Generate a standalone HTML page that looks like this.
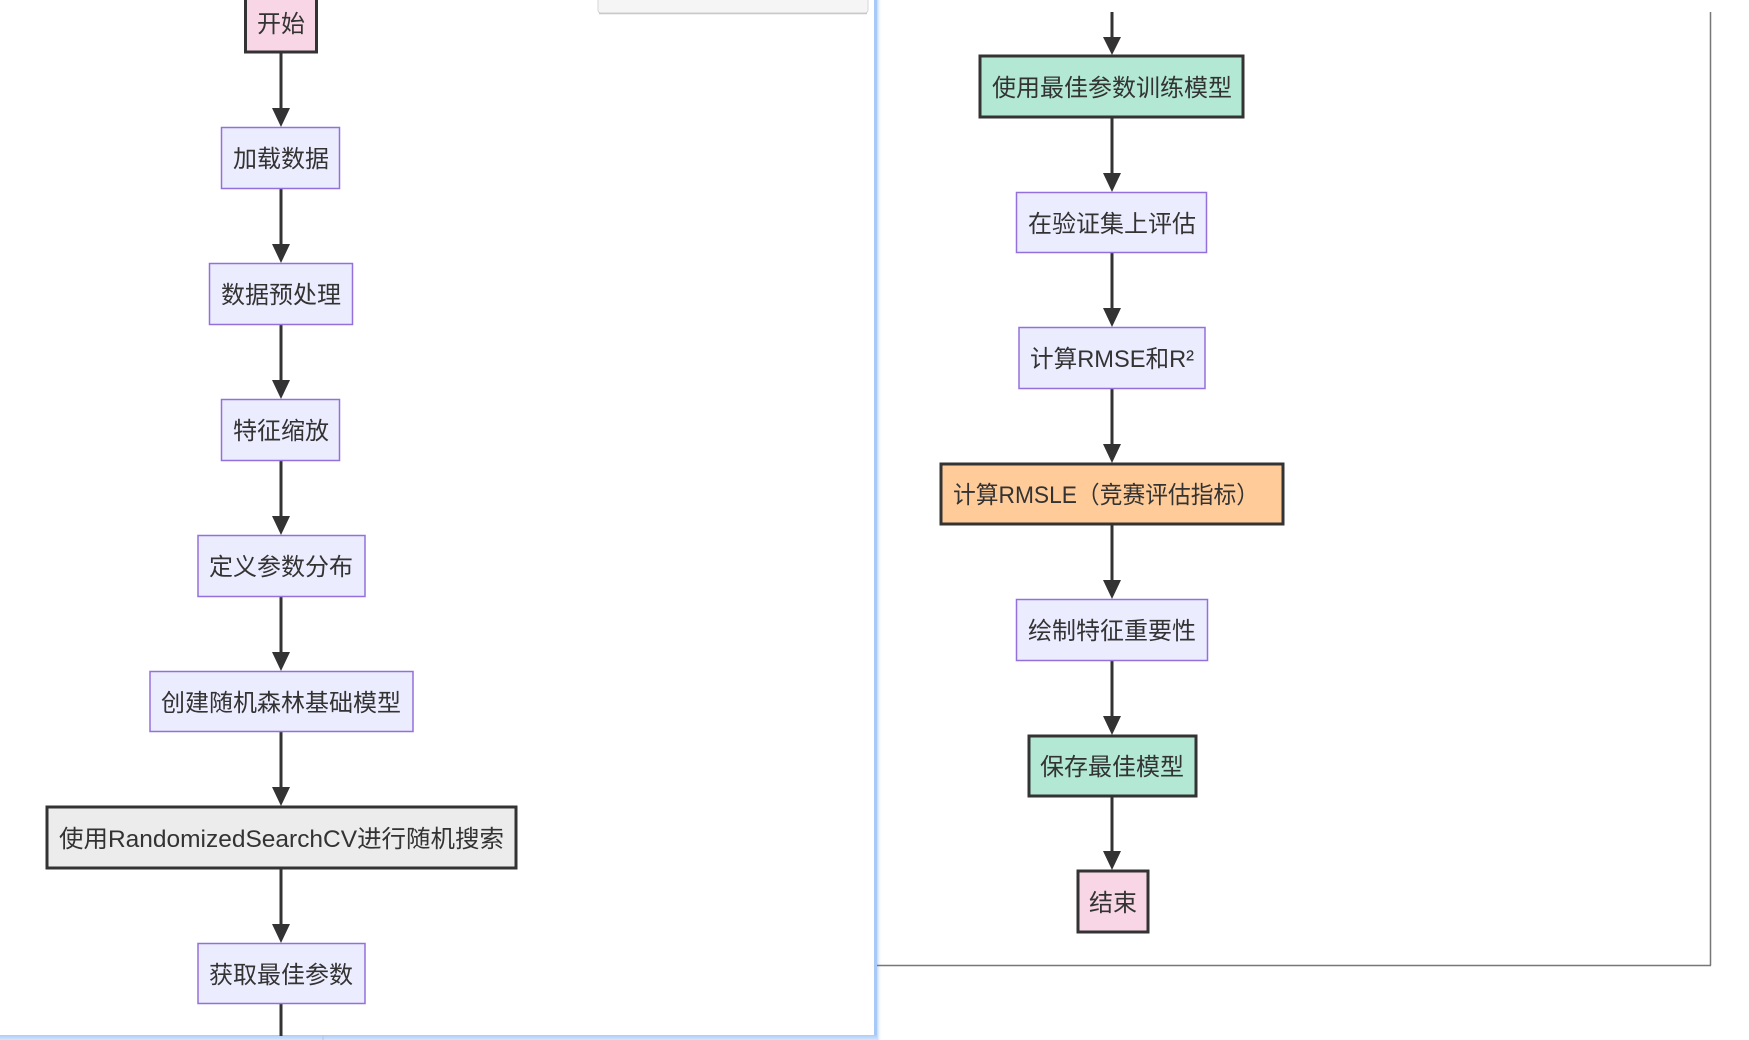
<!DOCTYPE html>
<html>
<head>
<meta charset="utf-8">
<style>
html,body{margin:0;padding:0;background:#fff;}
body{width:1749px;height:1040px;overflow:hidden;position:relative;}
svg{position:absolute;left:0;top:0;}
text{font-family:"Liberation Sans","Noto Sans CJK SC",sans-serif;font-size:24px;fill:#333;}
</style>
</head>
<body>
<svg width="1749" height="1040" viewBox="0 0 1749 1040" xmlns="http://www.w3.org/2000/svg">
<defs>
<linearGradient id="gr" x1="0" y1="0" x2="1" y2="0">
<stop offset="0" stop-color="#a9ccfa"/>
<stop offset="0.4" stop-color="#c4dcfc"/>
<stop offset="1" stop-color="#ffffff" stop-opacity="0"/>
</linearGradient>
<linearGradient id="gb" x1="0" y1="0" x2="0" y2="1">
<stop offset="0" stop-color="#a9ccfa"/>
<stop offset="1" stop-color="#d6e6fb"/>
</linearGradient>
</defs>

<!-- left panel borders -->
<rect x="874" y="0" width="8" height="1040" fill="url(#gr)"/>
<rect x="874" y="0" width="3" height="1040" fill="#a6c9f8"/>
<rect x="0" y="1035" width="877" height="5" fill="url(#gb)"/>
<line x1="323" y1="1036" x2="323" y2="1040" stroke="#b0c4dc" stroke-width="1"/>

<!-- right gray frame -->
<line x1="1710.5" y1="12" x2="1710.5" y2="965.5" stroke="#777" stroke-width="1.5"/>
<line x1="877" y1="965.5" x2="1711" y2="965.5" stroke="#777" stroke-width="1.5"/>

<!-- top gray box -->
<rect x="598" y="-6" width="270" height="19" rx="3" fill="#f5f5f5" stroke="#d6d6d6" stroke-width="1"/>
<line x1="599" y1="13.5" x2="867" y2="13.5" stroke="#c8c8c8" stroke-width="1.5"/>

<!-- ===== Left column edges ===== -->
<g stroke="#333" stroke-width="3">
<line x1="281" y1="53" x2="281" y2="112"/>
<line x1="281" y1="189" x2="281" y2="248"/>
<line x1="281" y1="325" x2="281" y2="384"/>
<line x1="281" y1="461" x2="281" y2="520"/>
<line x1="281" y1="597" x2="281" y2="656"/>
<line x1="281" y1="732" x2="281" y2="791"/>
<line x1="281" y1="869" x2="281" y2="928"/>
<line x1="281" y1="1004" x2="281" y2="1036"/>
</g>
<g fill="#333">
<polygon points="272,108 290,108 281,127"/>
<polygon points="272,244 290,244 281,263"/>
<polygon points="272,380 290,380 281,399"/>
<polygon points="272,516 290,516 281,535"/>
<polygon points="272,652 290,652 281,671"/>
<polygon points="272,787 290,787 281,806"/>
<polygon points="272,924 290,924 281,943"/>
</g>

<!-- Left nodes -->
<rect x="245.5" y="-10" width="71" height="62" fill="#f8d6e5" stroke="#333" stroke-width="3"/>
<text x="281" y="32" text-anchor="middle">开始</text>

<rect x="221.5" y="127.5" width="118" height="61" fill="#ececff" stroke="#9370db" stroke-width="1.5"/>
<text x="281" y="167" text-anchor="middle">加载数据</text>

<rect x="209.5" y="263.5" width="143" height="61" fill="#ececff" stroke="#9370db" stroke-width="1.5"/>
<text x="281" y="303" text-anchor="middle">数据预处理</text>

<rect x="221.5" y="399.5" width="118" height="61" fill="#ececff" stroke="#9370db" stroke-width="1.5"/>
<text x="281" y="439" text-anchor="middle">特征缩放</text>

<rect x="198" y="535.5" width="167" height="61" fill="#ececff" stroke="#9370db" stroke-width="1.5"/>
<text x="281" y="575" text-anchor="middle">定义参数分布</text>

<rect x="150" y="671.5" width="263" height="60" fill="#ececff" stroke="#9370db" stroke-width="1.5"/>
<text x="281" y="711" text-anchor="middle">创建随机森林基础模型</text>

<rect x="47" y="807" width="469" height="61" fill="#ececec" stroke="#333" stroke-width="3"/>
<text x="59" y="847" textLength="445" lengthAdjust="spacingAndGlyphs">使用RandomizedSearchCV进行随机搜索</text>

<rect x="198" y="943.5" width="167" height="60" fill="#ececff" stroke="#9370db" stroke-width="1.5"/>
<text x="281" y="983" text-anchor="middle">获取最佳参数</text>

<!-- ===== Right column edges ===== -->
<g stroke="#333" stroke-width="3">
<line x1="1112" y1="12" x2="1112" y2="40"/>
<line x1="1112" y1="118" x2="1112" y2="177"/>
<line x1="1112" y1="253" x2="1112" y2="312"/>
<line x1="1112" y1="389" x2="1112" y2="448"/>
<line x1="1112" y1="525" x2="1112" y2="584"/>
<line x1="1112" y1="661" x2="1112" y2="720"/>
<line x1="1112" y1="797" x2="1112" y2="855"/>
</g>
<g fill="#333">
<polygon points="1103,37 1121,37 1112,55"/>
<polygon points="1103,173 1121,173 1112,192"/>
<polygon points="1103,308 1121,308 1112,327"/>
<polygon points="1103,444 1121,444 1112,463"/>
<polygon points="1103,580 1121,580 1112,599"/>
<polygon points="1103,716 1121,716 1112,735"/>
<polygon points="1103,851 1121,851 1112,870"/>
</g>

<!-- Right nodes -->
<rect x="980" y="56" width="263" height="61" fill="#b3e9d4" stroke="#333" stroke-width="3"/>
<text x="1112" y="96" text-anchor="middle">使用最佳参数训练模型</text>

<rect x="1016.5" y="192.5" width="190" height="60" fill="#ececff" stroke="#9370db" stroke-width="1.5"/>
<text x="1112" y="232" text-anchor="middle">在验证集上评估</text>

<rect x="1019" y="327.5" width="186" height="61" fill="#ececff" stroke="#9370db" stroke-width="1.5"/>
<text x="1030" y="367" textLength="164" lengthAdjust="spacingAndGlyphs">计算RMSE和R²</text>

<rect x="941" y="464" width="342" height="60" fill="#ffcc99" stroke="#333" stroke-width="3"/>
<text x="953" y="503" textLength="306" lengthAdjust="spacingAndGlyphs">计算RMSLE（竞赛评估指标）</text>

<rect x="1016.5" y="599.5" width="191" height="61" fill="#ececff" stroke="#9370db" stroke-width="1.5"/>
<text x="1112" y="639" text-anchor="middle">绘制特征重要性</text>

<rect x="1029" y="736" width="167" height="60" fill="#b3e9d4" stroke="#333" stroke-width="3"/>
<text x="1112" y="775" text-anchor="middle">保存最佳模型</text>

<rect x="1078" y="871" width="70" height="61" fill="#f8d6e5" stroke="#333" stroke-width="3"/>
<text x="1113" y="911" text-anchor="middle">结束</text>
</svg>
</body>
</html>
